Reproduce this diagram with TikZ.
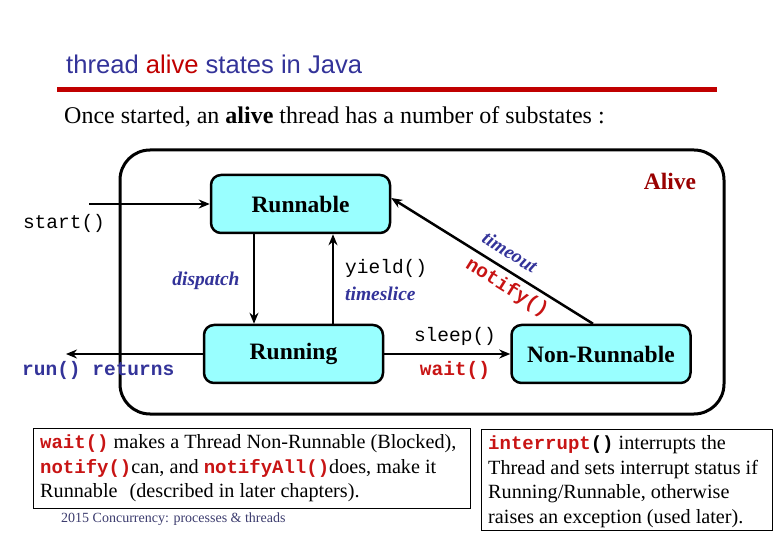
\documentclass[tikz,border=0pt]{standalone}
\usepackage{fontspec}
\setmainfont{Liberation Serif}
\setsansfont{Liberation Sans}
\setmonofont{Liberation Mono}
\usetikzlibrary{arrows.meta}
\definecolor{tblue}{RGB}{51,51,153}
\definecolor{tred}{RGB}{200,20,20}
\definecolor{darkred}{RGB}{153,0,0}
\definecolor{boxcyan}{RGB}{153,255,255}
\definecolor{rulered}{RGB}{192,0,0}
\definecolor{footblue}{RGB}{60,60,110}
\begin{document}
\begin{tikzpicture}[x=1pt,y=-1pt,
  statebox/.style={draw, line width=2.5pt, rounded corners=10pt, fill=boxcyan,
    minimum width=179pt, minimum height=58pt, inner sep=0pt,
    font=\fontsize{23.5}{28}\selectfont\bfseries},
  alivebox/.style={draw, line width=3pt, rounded corners=30pt,
    minimum width=604pt, minimum height=264pt, inner sep=0pt},
  notebox/.style={draw, line width=1pt, inner sep=0pt},
  arr/.style={line width=2.5pt, -{Stealth[length=11pt,width=9pt]}},
  lbl/.style={inner sep=0pt},
  code/.style={lbl, font=\fontsize{19.5}{23}\selectfont\ttfamily},
  redcode/.style={lbl, text=tred, font=\fontsize{19.5}{23}\selectfont\ttfamily\bfseries},
  bluecode/.style={lbl, text=tblue, font=\fontsize{19.5}{23}\selectfont\ttfamily\bfseries},
  blueital/.style={lbl, text=tblue, font=\fontsize{19.5}{23}\selectfont\bfseries\itshape},
  notetext/.style={lbl, anchor=north west, align=left, font=\fontsize{20.2}{24.8}\selectfont},
  notecode/.style={},
]
\useasboundingbox (0,0) rectangle (780,540);
\newcommand{\nc}[1]{{\fontsize{19}{24.8}\selectfont\ttfamily\bfseries #1}}

% title
\node[lbl, anchor=west, text=tblue, font=\fontsize{25.6}{30}\selectfont\sffamily] (title) at (66,64)
  {thread \textcolor{rulered}{alive} states in Java};
\draw[line width=5pt, rulered] (57,90) -- (717,90);
\node[lbl, anchor=west, font=\fontsize{24}{28}\selectfont] (sub) at (64,117)
  {Once started, an \textbf{alive} thread has a number of substates :};

% alive region
\node[alivebox] (alive) at (422,282) {};
\node[lbl, text=darkred, font=\fontsize{23.5}{28}\selectfont\bfseries] (alivelbl) at (670,181) {Alive};

% states
\node[statebox] (runnable) at (300.5,204) {Runnable};
\node[statebox] (running) at (293.5,354) {Running};
\node[statebox] (nonrun) at (601,354) {Non-Runnable};

% connectors
\coordinate (startpt) at (89,204);
\coordinate (retpt) at (66,354);
\coordinate (dx) at (254,280);
\coordinate (yx) at (333,280);

\draw[arr] (startpt) -- (runnable.west);
\node[code] (startlbl) at (64,223) {start()};

\draw[arr] (runnable.south -| dx) -- (running.north -| dx);
\node[blueital] (displbl) at (206,281) {dispatch};

\draw[arr] (running.north -| yx) -- (runnable.south -| yx);
\node[code, anchor=west] (yieldlbl) at (345,268) {yield()};
\node[blueital, anchor=west] (tslbl) at (345,294) {timeslice};

\draw[arr] (running.west) -- (retpt);
\node[bluecode, anchor=west] (retlbl) at (22,370) {run() returns};

\draw[arr] (running.east) -- (nonrun.west);
\node[code] (sleeplbl) at (455,336) {sleep()};
\node[redcode] (waitlbl) at (455,370) {wait()};

\draw[arr] ([xshift=-8pt]nonrun.north) -- ([yshift=6pt]runnable.east);
\node[blueital, rotate=-32] (tolbl) at (510,252) {timeout};
\node[redcode, rotate=-32] (notlbl) at (507,288) {notify()};

% notes
\node[notebox, minimum width=437pt, minimum height=80pt] (noteA) at (251.5,468) {};
\node[notetext] (noteAtext) at (40,434)
  {\textcolor{tred}{\nc{wait()}} makes a Thread Non-Runnable (Blocked),\\
   \textcolor{tred}{\nc{notify()}}can, and \textcolor{tred}{\nc{notifyAll()}}does, make it\\
   Runnable\hspace{12pt}(described in later chapters).};
\node[lbl, anchor=west, text=footblue, font=\fontsize{14}{16}\selectfont] (foot) at (61,519)
  {2015 Concurrency: processes \& threads};

\node[notebox, minimum width=291pt, minimum height=101pt] (noteB) at (626.5,479.5) {};
\node[notetext] (noteBtext) at (488,435)
  {\textcolor{tred}{\nc{interrupt}}\nc{()} interrupts the\\
   Thread and sets interrupt status if\\
   Running/Runnable, otherwise\\
   raises an exception (used later).};
\end{tikzpicture}
\end{document}
